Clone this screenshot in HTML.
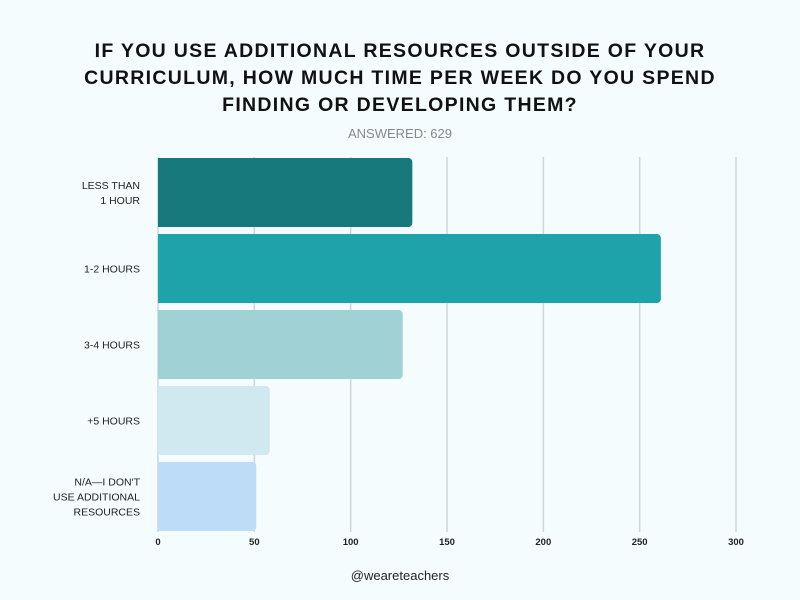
<!DOCTYPE html>
<html><head><meta charset="utf-8"><style>
body{margin:0;background:#f4fcfd;font-family:"Liberation Sans",sans-serif}
#wrap{position:relative;width:800px;height:600px;background:#f4fcfd;overflow:hidden}
.t{position:absolute;left:0;width:800px;text-align:center}
</style></head><body>
<div id="wrap">
<div class="t" style="top:38px;font-size:19.5px;font-weight:bold;letter-spacing:1.3px;line-height:27px;color:#111">IF YOU USE ADDITIONAL RESOURCES OUTSIDE OF YOUR<br>CURRICULUM, HOW MUCH TIME PER WEEK DO YOU SPEND<br>FINDING OR DEVELOPING THEM?</div>
<div class="t" style="top:126px;font-size:13px;color:#888">ANSWERED: 629</div>
<svg id="svg" width="800" height="600" style="position:absolute;left:0;top:0"></svg>
<div class="t" style="top:568px;font-size:13px;color:#222">@weareteachers</div>
</div>
<script>
const categories=[["LESS THAN","1 HOUR"],["1-2 HOURS"],["3-4 HOURS"],["+5 HOURS"],["N/A—I DON'T","USE ADDITIONAL","RESOURCES"]];
const values=[132,261,127,58,51];
const colors=["#17797b","#1ea3ab","#a0d2d5","#d0e8ef","#bcdcf8"];
const ticks=[0,50,100,150,200,250,300];
const svg=document.getElementById('svg');const NS="http://www.w3.org/2000/svg";
const x0=158,x1=736,xmax=300;
const X=v=>x0+(v/xmax)*(x1-x0);
const Y=i=>158+i*76;const bh=69;
function mk(t,a){const e=document.createElementNS(NS,t);for(const k in a)e.setAttribute(k,a[k]);svg.appendChild(e);return e;}
ticks.forEach(t=>{
 const g=mk('line',{x1:X(t),x2:X(t),y1:157,y2:532,stroke:'#cdd6d8','stroke-width':1.5});
 
 
 const l=mk('text',{x:X(t),y:545,'text-anchor':'middle','font-size':9.5,'font-weight':'bold',fill:'#222'});l.textContent=t;
 
 
});
values.forEach((v,i)=>{
 const w=X(v)-x0;
 const p=mk('path',{d:`M${x0},${Y(i)} h${w-4} a4,4 0 0 1 4,4 v${bh-8} a4,4 0 0 1 -4,4 h${-(w-4)} z`,fill:colors[i]});
 
 
 const lines=categories[i];const cy=Y(i)+bh/2;
 lines.forEach((s,j)=>{
  const t=mk('text',{x:140,y:cy+4+(j-(lines.length-1)/2)*15,'text-anchor':'end','font-size':10.5,fill:'#222'});t.textContent=s;
  
  
 });
});
</script>
</body></html>
